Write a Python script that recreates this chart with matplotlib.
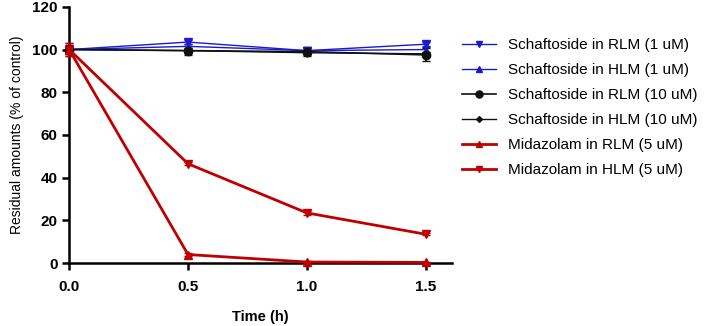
import matplotlib
matplotlib.use("Agg")
import matplotlib.pyplot as plt
from matplotlib.lines import Line2D

plt.rcParams['font.family'] = ['Liberation Sans', 'DejaVu Sans']

time_h = [0.0, 0.5, 1.0, 1.5]
labels = ["Schaftoside in RLM (1 uM)", "Schaftoside in HLM (1 uM)",
          "Schaftoside in RLM (10 uM)", "Schaftoside in HLM (10 uM)",
          "Midazolam in RLM (5 uM)", "Midazolam in HLM (5 uM)"]
sch_rlm_1 = [100, 103.5, 99.5, 102.5]
sch_rlm_1_err = [1.5, 1.0, 1.5, 1.0]
sch_hlm_1 = [100, 101.5, 99.5, 100.0]
sch_hlm_1_err = [1.0, 1.0, 1.0, 1.0]
sch_rlm_10 = [100, 99.5, 99.0, 97.5]
sch_rlm_10_err = [2.0, 2.0, 2.0, 3.0]
sch_hlm_10 = [100, 99.5, 98.5, 98.0]
sch_hlm_10_err = [1.0, 1.0, 1.0, 1.0]
mid_rlm = [100, 4.0, 0.5, 0.3]
mid_rlm_err = [3.0, 0.5, 0.3, 0.2]
mid_hlm = [100, 46.5, 23.5, 13.5]
mid_hlm_err = [3.0, 0.8, 0.8, 0.5]

series = [
    (sch_rlm_1, sch_rlm_1_err, "#1a1ad0", "v", 5.5, 1.0),
    (sch_hlm_1, sch_hlm_1_err, "#1a1ad0", "^", 4.5, 1.0),
    (sch_rlm_10, sch_rlm_10_err, "#111111", "o", 6, 1.2),
    (sch_hlm_10, sch_hlm_10_err, "#111111", "D", 3.5, 1.0),
    (mid_rlm, mid_rlm_err, "#c00000", "^", 5.5, 2.0),
    (mid_hlm, mid_hlm_err, "#c00000", "v", 5.5, 2.0),
]

fig = plt.figure(figsize=(7.06, 3.26), dpi=100)
ax = fig.add_axes([0.098, 0.193, 0.542, 0.786])

handles = []
for (vals, err, col, mk, ms, lw), lab in zip(series, labels):
    ax.errorbar(time_h, vals, yerr=err, color=col, marker=mk, markersize=ms,
                linewidth=lw, capsize=3, elinewidth=1.2, clip_on=False, zorder=3)
    handles.append(Line2D([], [], color=col, marker=mk, markersize=ms * 0.85,
                          linewidth=lw))

ax.set_xlim(0, 1.61)
ax.set_ylim(0, 120)
ax.set_xticks([0.0, 0.5, 1.0, 1.5])
ax.set_xticklabels(["0.0", "0.5", "1.0", "1.5"])
ax.set_yticks(range(0, 121, 20))
for s in ["top", "right"]:
    ax.spines[s].set_visible(False)
for s in ["left", "bottom"]:
    ax.spines[s].set_linewidth(1.8)
ax.tick_params(width=1.8, length=5, labelsize=11)
ax.tick_params(axis="x", pad=7)
for t in ax.get_xticklabels() + ax.get_yticklabels():
    t.set_fontweight("bold")
ax.set_xlabel("Time (h)", fontsize=10.5, fontweight="bold", labelpad=12)
ax.set_ylabel("Residual amounts (% of control)", fontsize=10, labelpad=6)

leg = fig.legend(handles=handles, labels=labels, loc="upper left",
                 bbox_to_anchor=(0.635, 0.925), frameon=False, fontsize=11,
                 handlelength=2.2, labelspacing=0.72, handletextpad=0.8)
fig.savefig("out.png", dpi=100)
